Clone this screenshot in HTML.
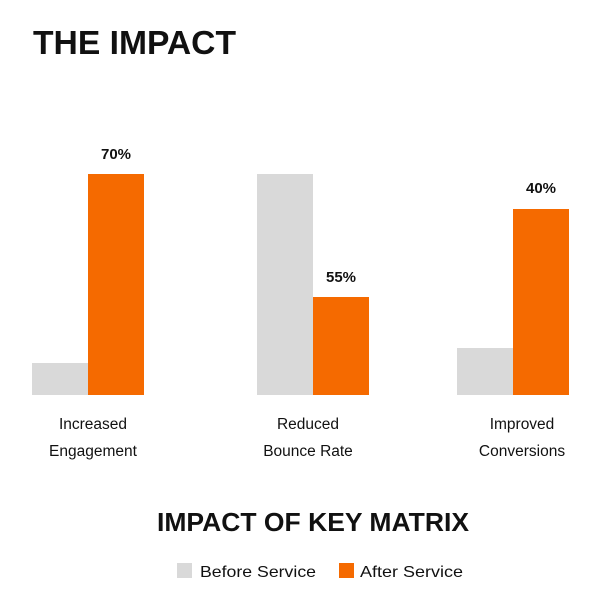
<!DOCTYPE html>
<html><head><meta charset="utf-8"><style>
html,body{margin:0;padding:0;background:#fff;}
svg{display:block;}
text{font-family:"Liberation Sans",Arial,sans-serif;fill:#111;}
</style></head><body>
<svg width="606" height="605" viewBox="0 0 606 605" xmlns="http://www.w3.org/2000/svg">
<rect width="606" height="605" fill="#fff"/>
<text x="33" y="54" font-size="33" font-weight="bold" textLength="203" lengthAdjust="spacingAndGlyphs">THE IMPACT</text>
<rect x="32" y="363" width="56" height="32" fill="#d9d9d9"/>
<rect x="88" y="174" width="56" height="221" fill="#f56a00"/>
<rect x="257" y="174" width="56" height="221" fill="#d9d9d9"/>
<rect x="313" y="297" width="56" height="98" fill="#f56a00"/>
<rect x="457" y="348" width="56" height="47" fill="#d9d9d9"/>
<rect x="513" y="209" width="56" height="186" fill="#f56a00"/>
<g font-size="15" font-weight="bold" text-anchor="middle">
<text x="116" y="159">70%</text>
<text x="341" y="282">55%</text>
<text x="541" y="193">40%</text>
</g>
<g font-size="15.5" text-anchor="middle">
<text x="93" y="429">Increased</text>
<text x="93" y="456">Engagement</text>
<text x="308" y="429">Reduced</text>
<text x="308" y="456">Bounce Rate</text>
<text x="522" y="429">Improved</text>
<text x="522" y="456">Conversions</text>
</g>
<text x="157" y="531" font-size="25.5" font-weight="bold" textLength="312" lengthAdjust="spacingAndGlyphs">IMPACT OF KEY MATRIX</text>
<rect x="177" y="563" width="15" height="15" fill="#d9d9d9"/>
<text x="200" y="577" font-size="16" textLength="116" lengthAdjust="spacingAndGlyphs">Before Service</text>
<rect x="339" y="563" width="15" height="15" fill="#f56a00"/>
<text x="360" y="577" font-size="16" textLength="103" lengthAdjust="spacingAndGlyphs">After Service</text>
</svg>
</body></html>
